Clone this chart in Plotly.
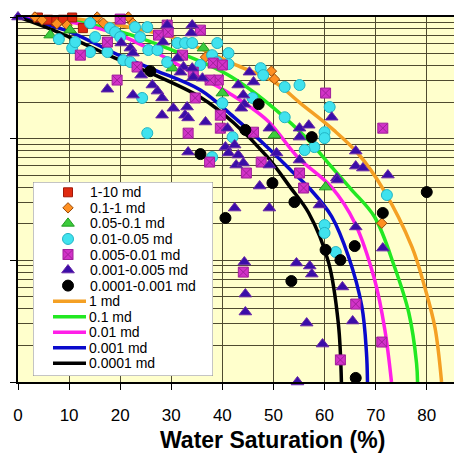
import plotly.graph_objects as go

# ---------------- data (x = water saturation %, y = log-scaled ordinate) -------------
red_x = [3.9, 5.9, 7.5, 8.8, 10.6, 13.1, 12.7, 24.7]
red_y = [990, 950, 920, 950, 990, 1010, 810, 1030]

org_x = [3.3, 4.7, 7.6, 9.6, 15.5, 16.7, 21.6, 22.5, 31.4, 36.7, 49.6, 50.2, 71.2]
org_y = [1000, 945, 880, 858, 1000, 890, 1000, 890, 610, 468, 359, 309, 20.2]

grn_x = [6.3, 10.2, 30.2, 36.3, 40.0, 50.2, 60.2]
grn_y = [710, 780, 380, 555, 237, 107, 40]

cyn_x = [8.0, 10.6, 11.2, 14.1, 15.1, 14.1, 17.5, 18.0, 19.0, 20.0, 22.9, 25.3, 23.9, 25.5,
         27.3, 20.6, 22.0, 24.3, 25.3, 29.2, 31.2, 32.7, 34.1, 35.7, 38.0, 39.0, 39.0, 41.2,
         41.2, 38.0, 40.0, 42.0, 45.9, 47.5, 48.0, 52.2, 55.1, 52.2, 61.0, 60.0, 60.0, 58.0,
         56.1, 72.2, 60.0, 60.0, 62.2]
cyn_y = [658, 555, 622, 891, 684, 515, 515, 811, 751, 684, 826, 826, 684, 535,
         535, 442, 426, 216, 111, 426, 611, 611, 611, 403, 486, 611, 426, 505,
         410, 70.6, 196, 103, 216, 380, 333, 266, 276, 150, 182, 113, 101, 85.3,
         80.6, 34.4, 19.5, 16.8, 11.7]

mag_x = [20.0, 17.5, 12.2, 19.4, 23.3, 27.5, 29.2, 29.4, 35.7, 32.2, 34.3, 38.2, 40.0, 39.2,
         37.6, 34.7, 33.3, 37.5, 39.6, 39.6, 46.1, 47.6, 44.7, 55.1, 55.9, 60.2, 71.4, 44.1,
         66.1, 71.2, 63.1]
mag_y = [961, 622, 486, 303, 388, 710, 858, 751, 780, 486, 352, 418, 403, 303,
         303, 216, 111, 64.2, 156, 122, 113, 64.2, 52.2, 52.2, 39.3, 237, 122, 8.0,
         4.37, 2.13, 1.52]

tri_x = [0, 17.5, 20.2, 22.0, 22.5, 24.1, 26.3, 27.3, 28.2, 30.4, 28.2, 33.1, 32.7, 33.3,
         36.7, 22.5, 29.2, 34.1, 33.9, 28.4, 31.2, 32.4, 34.1, 34.3, 36.1, 33.3, 40.6, 41.0,
         41.2, 31.8, 43.1, 45.3, 46.1, 44.1, 44.3, 43.7, 42.4, 43.1, 42.7, 44.1, 49.2, 50.6,
         49.2, 47.3, 55.1, 55.1, 56.9, 55.1, 61.4, 62.4, 66.1, 66.1, 67.5, 72.4, 42.4, 49.2,
         59.0, 62.5, 66.1, 71.4, 44.3, 54.5, 57.1, 57.5, 63.5, 44.5, 44.5, 56.5, 65.5, 59.6,
         54.7]
tri_y = [1000, 255, 611, 555, 505, 333, 276, 246, 216, 178, 156, 182, 156, 148,
         137, 228, 858, 858, 738, 622, 459, 388, 380, 320, 314, 77.6, 85.3, 122,
         76.2, 352, 276, 352, 292, 228, 192, 178, 88.6, 73.3, 60.7, 63, 122, 76.2,
         60.7, 40.8, 122, 103, 129, 66.7, 150, 47.5, 79, 59.5, 57.3, 50.2, 26.9, 26.9,
         28.5, 45.7, 18.8, 12.6, 9.68, 9.5, 8.98, 7.71, 6.04, 5.28, 3.76, 3.05, 3.17, 2.05,
         1.0]

blk_x = [25.9, 35.7, 47.1, 44.5, 57.5, 49.8, 80.0, 54.1, 71.4, 65.9, 60.2, 63.1, 40.6, 53.5, 66.1]
blk_y = [359, 74.7, 192, 118, 103, 43.2, 36.4, 30.1, 24.5, 13.1, 12.2, 10.05, 22.3, 6.76, 1.08]

# model curves
c1_x = [0, 10, 20, 30.4, 43, 50.2, 55.3, 61.8, 66.5, 71.4, 77.1, 79.6, 81.6, 82.9]
c1_y = [1000, 977, 851, 676, 398, 292, 195, 117.5, 75.9, 38.9, 12.9, 6.03, 2.82, 1]
c01_x = [0, 10, 20, 29.2, 41.8, 55.5, 61.4, 65.3, 69.8, 73.7, 76.5, 78.0, 78.2]
c01_y = [1000, 933, 759, 555, 321, 111, 58.5, 38.0, 22.7, 8.81, 3.69, 1.43, 1]
c001_x = [0, 10, 20, 27.8, 35, 41.5, 48.8, 54.7, 61.4, 65.9, 69.8, 71.8, 73.1]
c001_y = [1000, 912, 708, 490, 331, 234, 141, 70.8, 39.8, 20.4, 6.92, 2.69, 1]
c0001_x = [0, 10, 20, 27, 35.7, 42.2, 48.8, 53.9, 57.3, 61.4, 64.7, 67.3, 68.2, 68.4]
c0001_y = [1000, 759, 479, 363, 251, 151, 85.1, 52.5, 38.0, 22.9, 10.7, 4.17, 1.74, 1]
c00001_x = [0, 7.8, 19, 25.5, 35.7, 42.2, 48.8, 53.3, 56.9, 60.8, 62.7, 63.3]
c00001_y = [1000, 752, 459, 352, 219, 135, 70.8, 39.8, 24.5, 9.55, 3.02, 1]

x_ticks = [0, 10, 20, 30, 40, 50, 60, 70, 80]
x_title = "Water Saturation (%)"

marker_series = [
    ("1-10 md", red_x, red_y, "square", 9, "#E02A10", "#A01808"),
    ("0.1-1 md", org_x, org_y, "diamond", 8, "#FF9022", "#9A4A08"),
    ("0.05-0.1 md", grn_x, grn_y, "triangle-up", 11, "#3CCB3C", "#1E9A1E"),
    ("0.01-0.05 md", cyn_x, cyn_y, "circle", 11, "#40E2EE", "#22B4C4"),
    ("0.005-0.01 md", mag_x, mag_y, "square-x", 10, "#D232C8", "#A0209A"),
    ("0.001-0.005 md", tri_x, tri_y, "triangle-up", 11, "#3A0EA8", "#6A28A8"),
    ("0.0001-0.001 md", blk_x, blk_y, "circle", 11, "#000000", "#000000"),
]
line_series = [
    ("1 md", c1_x, c1_y, "#F4A024"),
    ("0.1 md", c01_x, c01_y, "#22E822"),
    ("0.01 md", c001_x, c001_y, "#FF1FE8"),
    ("0.001 md", c0001_x, c0001_y, "#0A0ACC"),
    ("0.0001 md", c00001_x, c00001_y, "#000000"),
]

FONT = "Liberation Sans, Arial, sans-serif"
GRID = "#4f4b30"

# The page body keeps the browser's default 8 px margin, so the figure is drawn
# 8 px right/down of the window corner; margins compensate for that offset.
PAGE_OFF = 8
PLOT_L, PLOT_T, PLOT_B = 18, 17, 382      # wanted plot edges in window pixels
PLOT_W = 462 - PLOT_L
PLOT_H = PLOT_B - PLOT_T

fig = go.Figure()

for name, xs, ys, col in line_series:
    fig.add_trace(go.Scatter(x=xs, y=ys, mode="lines", name=name,
                             line=dict(color=col, width=3.5, shape="spline", smoothing=1.0),
                             showlegend=False, hoverinfo="skip"))

for name, xs, ys, sym, sz, col, edge in marker_series:
    fig.add_trace(go.Scatter(x=xs, y=ys, mode="markers", name=name, cliponaxis=False,
                             marker=dict(symbol=sym, size=sz, color=col,
                                         line=dict(color=edge, width=1)),
                             showlegend=False))

# ---------------- hand-built legend box on its own (hidden) axes ----------------
LEG_W, LEG_H = 180, 194
LEG_L, LEG_T = 33, 182
ROW0, ROWSTEP = 10.3, 15.55
n_items = len(marker_series) + len(line_series)
rows = [ROW0 + ROWSTEP * i for i in range(n_items)]

fig.add_shape(type="rect", xref="x2", yref="y2", x0=0, x1=LEG_W, y0=0, y1=LEG_H,
              fillcolor="white", line=dict(color="#8a8a8a", width=1), layer="below")

annotations = []
for i, (name, xs, ys, sym, sz, col, edge) in enumerate(marker_series):
    fig.add_trace(go.Scatter(x=[35], y=[rows[i]], xaxis="x2", yaxis="y2", mode="markers",
                             marker=dict(symbol=sym, size=sz, color=col,
                                         line=dict(color=edge, width=1)),
                             showlegend=False, hoverinfo="skip"))
    annotations.append(dict(x=55, y=rows[i], xref="x2", yref="y2", text=name,
                            showarrow=False, xanchor="left", yanchor="middle",
                            font=dict(family=FONT, size=14, color="black")))
for j, (name, xs, ys, col) in enumerate(line_series):
    r = rows[len(marker_series) + j]
    fig.add_trace(go.Scatter(x=[20, 53], y=[r, r], xaxis="x2", yaxis="y2", mode="lines",
                             line=dict(color=col, width=3.5),
                             showlegend=False, hoverinfo="skip"))
    annotations.append(dict(x=54, y=r, xref="x2", yref="y2", text=name,
                            showarrow=False, xanchor="left", yanchor="middle",
                            font=dict(family=FONT, size=14, color="black")))

annotations.append(dict(x=(272 - PLOT_L) / PLOT_W, y=(PLOT_B - 440) / PLOT_H,
                        xref="paper", yref="paper", text="<b>" + x_title + "</b>",
                        showarrow=False, xanchor="center", yanchor="middle",
                        font=dict(family=FONT, size=23, color="black")))

fig.update_layout(
    width=462, height=462,
    margin=dict(l=PLOT_L - PAGE_OFF, r=PAGE_OFF, t=PLOT_T - PAGE_OFF,
                b=462 - (PLOT_B - PAGE_OFF), autoexpand=False),
    paper_bgcolor="white",
    plot_bgcolor="#FFFFCC",
    showlegend=False,
    font=dict(family=FONT, color="black"),
    annotations=annotations,
    xaxis=dict(range=[0, 86.9], tickvals=x_ticks, ticktext=[str(v) for v in x_ticks],
               automargin=False,
               showgrid=True, gridcolor=GRID, gridwidth=1, zeroline=False,
               ticks="outside", ticklen=6, tickcolor="black", tickwidth=1,
               ticklabelstandoff=11,
               tickfont=dict(family=FONT, size=17, color="black"),
               showline=True, linecolor="black", linewidth=2, mirror=True),
    yaxis=dict(type="log", range=[0, 3], dtick=1, showticklabels=False, automargin=False,
               showgrid=True, gridcolor=GRID, gridwidth=1, zeroline=False,
               ticks="outside", ticklen=6, tickcolor="black", tickwidth=1,
               showline=True, linecolor="black", linewidth=1.5,
               minor=dict(dtick="D1", showgrid=True, gridcolor=GRID, gridwidth=1, ticks="")),
    xaxis2=dict(domain=[(LEG_L - PLOT_L) / PLOT_W, (LEG_L + LEG_W - PLOT_L) / PLOT_W],
                range=[0, LEG_W], anchor="y2", visible=False, fixedrange=True, automargin=False),
    yaxis2=dict(domain=[(PLOT_B - LEG_T - LEG_H) / PLOT_H, (PLOT_B - LEG_T) / PLOT_H],
                range=[LEG_H, 0], anchor="x2", visible=False, fixedrange=True, automargin=False),
)

fig.write_html("out.html")
